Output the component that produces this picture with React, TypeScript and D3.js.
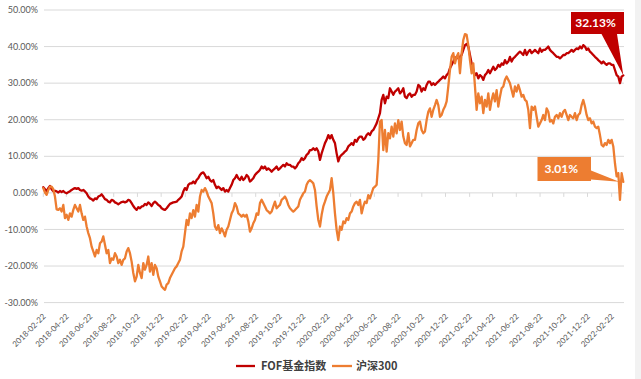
import React from "react";
import * as d3 from "d3";

const seriesNames = ["FOF基金指数", "沪深300"];
const startDate = "2018-02-22";
const endDate = "2022-03-24";
const tickLabels = [
  "2018-02-22", "2018-04-22", "2018-06-22", "2018-08-22", "2018-10-22", "2018-12-22",
  "2019-02-22", "2019-04-22", "2019-06-22", "2019-08-22", "2019-10-22", "2019-12-22",
  "2020-02-22", "2020-04-22", "2020-06-22", "2020-08-22", "2020-10-22", "2020-12-22",
  "2021-02-22", "2021-04-22", "2021-06-22", "2021-08-22", "2021-10-22", "2021-12-22",
  "2022-02-22",
];
const yTicks = [-30, -20, -10, 0, 10, 20, 30, 40, 50];
const fofLastLabel = "32.13%";
const hsLastLabel = "3.01%";

const fofValues = [
  1.55, 1.0, 0.4, 1.3, 1.9, 1.0, 0.4, 0.6, 0.4, 0.1,
  0.5, 0.2, 0.5, 0.1, -0.1, 0.2, 0.45, 0.8, 1.1, 1.3,
  1.1, 1.3, 0.8, 0.6, 0.8, 0.4, -0.1, -1.0, -1.5, -1.7,
  -2.1, -1.5, -1.7, -1.0, -0.8, -0.4, -1.0, -1.7, -1.9, -2.4,
  -2.6, -1.9, -2.1, -2.6, -2.8, -3.1, -2.8, -2.5, -2.4, -2.6,
  -2.4, -1.9, -2.1, -2.8, -3.6, -4.2, -4.65, -3.9, -4.2, -3.7,
  -3.6, -3.0, -3.3, -2.6, -3.0, -3.6, -2.8, -2.4, -2.8, -3.3,
  -3.6, -4.2, -4.5, -4.65, -4.2, -3.6, -3.0, -2.8, -2.6, -2.5,
  -2.4, -1.9, -1.5,
  -1.0, 0.35, 1.3, 0.8, 2.2, 2.6, 2.6, 3.1, 2.6, 3.5,
  4.0, 4.9, 5.4, 5.6, 4.9, 4.0, 4.4, 3.5, 3.1, 3.5,
  2.2, 1.3, 1.7, 1.3, 0.8, 1.3, 0.35, 0.8, 0.35, 1.3,
  2.2, 3.5, 4.0, 4.9, 4.0, 3.5, 4.4, 3.5, 4.0, 4.9,
  4.4, 3.1, 3.5, 4.0, 4.9, 5.4, 5.8, 6.3, 7.2, 6.7,
  7.2, 6.3, 6.7, 6.3, 5.8, 6.3, 6.7, 7.2, 6.3, 6.7,
  7.2, 7.65, 7.2, 8.1, 7.65, 7.65, 7.2, 7.2, 6.7, 7.2,
  8.1, 8.6, 9.5, 9.0, 9.5, 10.4, 10.8, 11.7, 11.7, 12.2,
  11.7, 12.2, 11.3, 9.0,
  10.8, 12.2, 13.6, 14.5, 15.8, 14.9, 15.8, 14.5, 13.6, 10.8,
  8.6, 9.9, 10.4, 10.8, 11.3, 11.7, 12.7, 13.1, 13.6, 13.1,
  14.5, 14.0, 14.9, 15.4, 15.4, 14.5, 14.9, 15.8, 16.3, 15.8,
  16.8, 17.2, 18.1, 19.0, 20.4, 21.8, 25.4, 26.8, 24.5, 26.3,
  25.9, 28.6, 27.7, 26.8, 27.7, 28.1, 28.6, 27.2, 27.7, 28.6,
  26.3, 25.9, 26.8, 27.2, 26.3, 26.8, 26.8, 27.7, 29.5, 29.1,
  27.7, 28.6, 28.1, 29.5, 30.4, 30.4, 29.5, 30.0, 29.5, 30.0,
  30.4, 30.9, 31.3, 31.8, 31.3, 32.2, 32.7, 34.1, 35.0, 35.9,
  36.8, 37.2, 36.8, 37.2,
  37.7, 39.1, 40.4, 40.7, 40.0, 37.7, 35.4, 33.6, 32.2, 32.7,
  31.3, 32.2, 31.8, 30.9, 32.2, 32.7, 33.6, 32.7, 33.6, 34.5,
  33.6, 34.1, 35.0, 34.5, 35.4, 35.0, 36.3, 35.4, 35.9, 37.2,
  35.9, 36.8, 37.2, 37.7, 38.2, 38.6, 38.2, 37.7, 39.1, 37.7,
  38.6, 39.1, 38.2, 38.6, 39.1, 38.6, 38.2, 39.5, 38.6, 39.1,
  39.1, 39.5, 40.0, 39.1, 38.6, 38.2, 37.7, 37.2, 37.2, 36.8,
  37.2, 37.7, 37.7, 38.2, 38.2, 38.6, 39.1, 38.6, 39.1, 39.5,
  39.3, 40.0, 39.5, 40.4, 40.0, 39.1, 39.5, 38.6, 38.2, 37.7,
  37.2, 36.8, 36.3, 35.9, 35.4, 35.9, 35.4, 35.0, 35.4, 35.4,
  35.0, 35.0, 33.6, 32.2, 31.8, 30.0, 31.8, 32.13,
];

const hs300Values = [
  1.3, 0.1, -0.55, 0.8, 1.7, 1.7, 1.0, -1.0, -4.5, -4.65,
  -4.2, -5.1, -3.3, -6.9, -6.0, -7.4, -5.6, -6.5, -4.65, -3.3,
  -4.2, -5.1, -3.3, -5.6, -7.4, -6.5, -9.2, -11.0, -12.4, -14.7,
  -16.0, -17.4, -15.6, -16.5, -13.8, -13.3, -11.9, -14.2, -16.5, -15.6,
  -19.2, -17.9, -18.3, -16.5, -17.4, -19.2, -18.3, -19.7, -18.3, -17.9,
  -16.0, -15.1, -16.5, -18.8, -21.9, -24.2, -22.9, -19.7, -21.9, -23.3,
  -19.2, -21.0, -19.7, -17.4, -21.5, -19.2, -22.4, -19.7, -20.6, -22.9,
  -24.2, -25.6, -26.1, -26.5, -25.1, -24.7, -23.3, -22.4, -21.5, -20.6,
  -20.1, -19.2, -18.3,
  -16.0, -14.7, -11.0, -7.4, -8.8, -5.6, -6.9, -4.7, -6.5, -3.3,
  -5.1, -1.0, 0.8, 0.35, 1.3, 0.35, -1.0, -1.9, -2.8, -5.6,
  -9.2, -10.1, -8.8, -11.0, -9.7, -10.6, -11.9, -10.1, -9.2, -7.4,
  -5.6, -4.7, -2.8, -3.7, -5.6, -6.0, -6.5, -6.0, -6.5, -6.0,
  -7.8, -10.6, -9.7, -8.3, -7.4, -5.6, -6.0, -2.8, -1.9, -2.8,
  -3.7, -4.7, -5.1, -5.6, -5.1, -3.7, -2.4, -4.2, -3.7, -3.3,
  -1.9, -1.5, -1.0, -1.9, -3.3, -4.2, -4.7, -5.1, -4.7, -4.2,
  -3.7, -1.9, -1.0, -0.1, 0.35, 2.2, 3.1, 3.5, 3.1, 2.6,
  0.8, -3.7, -7.4, -9.2,
  -6.0, -3.7, -2.4, -1.0, -0.1, 0.8, 4.0, -0.1, -5.6, -10.1,
  -12.9, -9.2, -10.1, -7.8, -8.3, -6.9, -7.4, -5.6, -5.1, -3.7,
  -2.8, -2.4, -3.3, -1.9, -5.6, -3.7, -2.4, -2.8, -0.6, -1.5,
  -0.1, 1.3, 1.7, 2.2, 9.0, 19.5, 19.9, 11.7, 17.2, 11.3,
  16.3, 14.9, 18.1, 15.4, 19.0, 16.3, 19.9, 17.2, 19.5, 15.4,
  13.6, 13.1, 16.3, 12.7, 13.6, 14.5, 14.5, 17.2, 19.0, 19.5,
  17.2, 16.3, 16.8, 19.9, 22.2, 23.1, 20.8, 22.7, 24.0, 25.4,
  24.0, 20.8, 21.3, 22.7, 23.6, 25.0, 29.1, 33.6, 37.2, 38.2,
  35.4, 37.2, 38.2, 32.7,
  38.2, 41.8, 43.4, 43.2, 40.4, 36.3, 32.7, 35.4, 29.1, 22.7,
  27.2, 24.5, 26.3, 21.8, 25.4, 23.6, 27.2, 22.7, 25.4, 27.2,
  25.0, 28.1, 23.6, 26.3, 28.6, 29.1, 30.9, 31.8, 30.9, 30.0,
  28.1, 26.3, 29.1, 27.7, 29.5, 28.1, 26.3, 26.8, 25.4, 25.0,
  22.7, 17.7, 23.6, 22.7, 23.6, 20.8, 18.1, 19.0, 19.9, 21.3,
  19.9, 23.1, 22.2, 19.5, 19.9, 19.0, 20.8, 21.3, 20.4, 21.8,
  20.8, 22.2, 22.7, 21.3, 19.9, 21.3, 20.8, 20.4, 21.8, 19.9,
  21.3, 21.8, 24.0, 25.4, 23.6, 21.3, 19.9, 20.4, 19.0, 19.5,
  18.1, 17.7, 18.1, 15.8, 13.1, 12.7, 13.6, 13.1, 14.5, 13.6,
  14.5, 12.7, 8.1, 4.5, 5.4, -1.9, 5.4, 3.01,
];

const RED = "#c00000";
const ORANGE = "#ed7d31";
const GRID = "#d9d9d9";
const TEXT = "#595959";
const LATIN = "Lato, 'Liberation Sans', sans-serif";

export default function App() {
  const W = 641;
  const H = 379;
  const parse = d3.timeParse("%Y-%m-%d");
  const t0 = parse(startDate) as Date;
  const t1 = parse(endDate) as Date;
  const n = fofValues.length;
  const idxToDate = d3.scaleLinear().domain([0, n - 1]).range([t0.getTime(), t1.getTime()]);
  const dates = d3.range(n).map((i) => new Date(idxToDate(i)));

  const x = d3.scaleTime().domain([t0, t1]).range([43.3, 623.3]);
  const y = d3.scaleLinear().domain([-30, 50]).range([302.6, 10]);
  const gridX0 = 44;
  const gridX1 = 624;

  const line = d3
    .line<number>()
    .x((_, i) => x(dates[i]))
    .y((d) => y(d));

  const fofPath = line(fofValues) || "";
  const hsPath = line(hs300Values) || "";

  const lastX = x(dates[n - 1]);
  const fofLastY = y(fofValues[n - 1]);
  const hsLastY = y(hs300Values[n - 1]);

  const rb = { x0: 571, y0: 12, x1: 624, y1: 34 };
  const redCallout = `M${rb.x0},${rb.y0}H${rb.x1}V${rb.y1}H${617}L${lastX},${fofLastY}L${601.5},${rb.y1}H${rb.x0}Z`;
  const ob = { x0: 537.5, y0: 157, x1: 591, y1: 181 };
  const orangeCallout = `M${ob.x0},${ob.y0}H${ob.x1}V${170.5}L${lastX - 4},${hsLastY}L${ob.x1},${179.5}V${ob.y1}H${ob.x0}Z`;

  const y0 = y(0);

  return (
    <svg
      width={W}
      height={H}
      style={{ position: "absolute", left: 0, top: 0, background: "#fff" }}
    >
      <rect x={0} y={0} width={W} height={H} fill="#ffffff" />
      <rect x={635} y={0} width={6} height={H} fill="#f2f2f2" />
      {yTicks.map((t) => (
        <g key={t}>
          <line x1={gridX0} x2={gridX1} y1={y(t)} y2={y(t)} stroke={GRID} strokeWidth={1} />
          <text
            x={38}
            y={y(t)}
            dy="0.35em"
            textAnchor="end"
            fontFamily={LATIN}
            fontSize={9}
            fill={TEXT}
          >
            {`${t.toFixed(2)}%`}
          </text>
        </g>
      ))}
      {tickLabels.map((lab) => {
        const tx = x(parse(lab) as Date);
        return (
          <g key={lab}>
            <line x1={tx} x2={tx} y1={y0} y2={y0 + 4} stroke={GRID} strokeWidth={1} />
            <text
              transform={`translate(${tx + 3},${317}) rotate(-45)`}
              textAnchor="end"
              fontFamily={LATIN}
              fontSize={8}
              fill={TEXT}
            >
              {lab}
            </text>
          </g>
        );
      })}
      <path d={fofPath} fill="none" stroke={RED} strokeWidth={2.3} strokeLinejoin="round" strokeLinecap="round" />
      <path d={hsPath} fill="none" stroke={ORANGE} strokeWidth={2.3} strokeLinejoin="round" strokeLinecap="round" />

      <path d={redCallout} fill={RED} />
      <text
        x={(rb.x0 + rb.x1) / 2 - 2}
        y={(rb.y0 + rb.y1) / 2}
        dy="0.36em"
        textAnchor="middle"
        fontFamily={LATIN}
        fontWeight="bold"
        fontSize={12}
        fill="#ffffff"
      >
        {fofLastLabel}
      </text>
      <path d={orangeCallout} fill={ORANGE} />
      <text
        x={(ob.x0 + ob.x1) / 2 - 3}
        y={(ob.y0 + ob.y1) / 2}
        dy="0.36em"
        textAnchor="middle"
        fontFamily={LATIN}
        fontWeight="bold"
        fontSize={12}
        fill="#ffffff"
      >
        {hsLastLabel}
      </text>

      <line x1={236} x2={255} y1={366} y2={366} stroke={RED} strokeWidth={2.3} />
      <text x={261} y={366} dy="0.36em" fontFamily="'Noto Sans CJK SC', sans-serif" fontWeight="bold" fontSize={11} fill="#404040">
        {seriesNames[0]}
      </text>
      <line x1={332} x2={352} y1={366} y2={366} stroke={ORANGE} strokeWidth={2.3} />
      <text x={356} y={366} dy="0.36em" fontFamily="'Noto Sans CJK SC', sans-serif" fontWeight="bold" fontSize={11} fill="#404040">
        {seriesNames[1]}
      </text>
    </svg>
  );
}
